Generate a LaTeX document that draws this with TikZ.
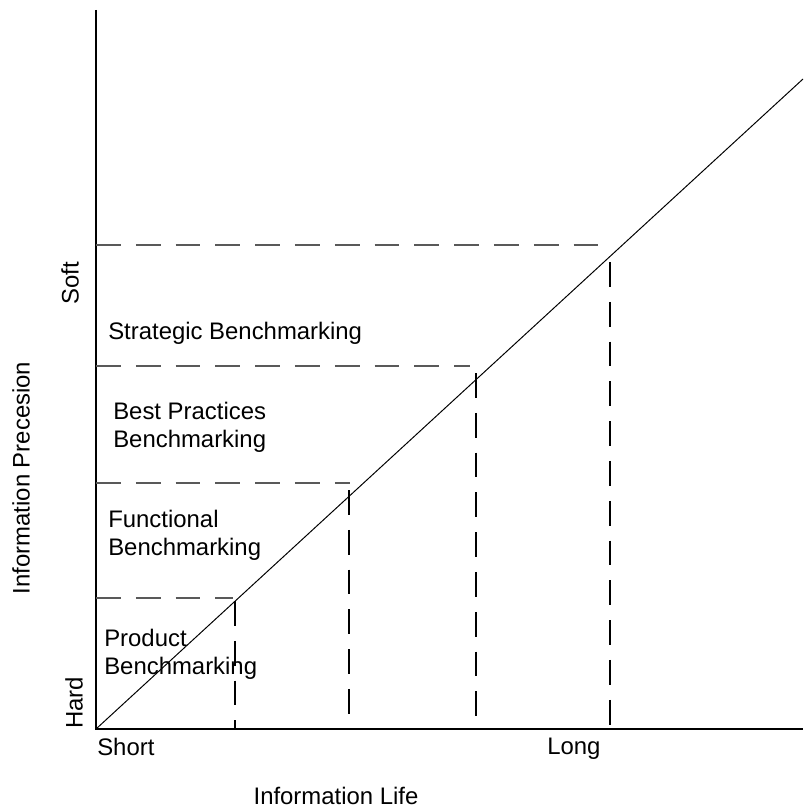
\documentclass[tikz,border=0pt]{standalone}
\usepackage{fontspec}
\setmainfont{Liberation Sans}

\begin{document}
\begin{tikzpicture}[x=0.025cm,y=-0.025cm,
  hguide/.style={dash pattern=on 17.7pt off 10.6pt, line width=1.1pt, black!65},
  vguide/.style={dash pattern=on 17.7pt off 10.6pt, line width=0.8pt, black},
  lbl/.style={font=\fontsize{17}{20}\selectfont, inner sep=0pt, align=left}]
\useasboundingbox (0,0) rectangle (803,808);
\coordinate (o) at (96,729);
\coordinate (ytop) at (96,10);
\coordinate (xend) at (803,729);
\coordinate (lend) at (803,79);
\draw[line width=1.1pt] (ytop) -- (o) -- (xend);
\draw[line width=0.7pt] (o) -- (lend);
\coordinate (h1a) at (96,598);
\coordinate (h1b) at (233,598);
\coordinate (h2a) at (96,483);
\coordinate (h2b) at (350,483);
\coordinate (h3a) at (96,366);
\coordinate (h3b) at (470,366);
\coordinate (h4a) at (96,245);
\coordinate (h4b) at (603,245);
\draw[hguide] (h1a) -- (h1b);
\draw[hguide] (h2a) -- (h2b);
\draw[hguide] (h3a) -- (h3b);
\draw[hguide] (h4a) -- (h4b);
\coordinate (v1a) at (235,601);
\coordinate (v1b) at (235,729);
\coordinate (v2a) at (349,490);
\coordinate (v2b) at (349,729);
\coordinate (v3a) at (476,373);
\coordinate (v3b) at (476,729);
\coordinate (v4a) at (610,262);
\coordinate (v4b) at (610,729);
\draw[vguide] (v1a) -- (v1b);
\draw[vguide] (v2a) -- (v2b);
\draw[vguide] (v3a) -- (v3b);
\draw[vguide] (v4a) -- (v4b);
\node[lbl, anchor=west] (strategic) at (108,333) {Strategic Benchmarking};
\node[lbl, anchor=west] (bestpractices) at (113,427) {Best Practices\\Benchmarking};
\node[lbl, anchor=west] (functional) at (108,535) {Functional\\Benchmarking};
\node[lbl, anchor=west] (product) at (104,654) {Product\\Benchmarking};
\node[lbl, anchor=base west] (short) at (97,755) {Short};
\node[lbl, anchor=base west] (long) at (547,754) {Long};
\node[lbl, anchor=base] (xtitle) at (336,804) {Information Life};
\node[lbl, rotate=90] (soft) at (70,283) {Soft};
\node[lbl, rotate=90] (hard) at (74,703) {Hard};
\node[lbl, rotate=90] (ytitle) at (21,478) {Information Precesion};
\end{tikzpicture}
\end{document}
